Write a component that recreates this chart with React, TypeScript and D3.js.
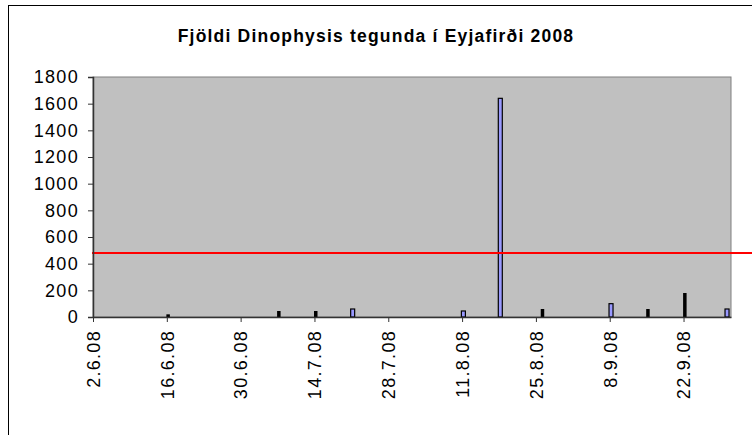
import React, { useEffect, useRef } from "react";
import * as d3 from "d3";

// Two series of counts
const blueDates = ["2008-07-21", "2008-08-11", "2008-08-18", "2008-09-08", "2008-09-30"];
const blueValues = [60, 45, 1640, 100, 60];
const blackDates = ["2008-06-16", "2008-07-07", "2008-07-14", "2008-08-26", "2008-09-15", "2008-09-22"];
const blackValues = [20, 45, 45, 60, 60, 180];
const yTicks = [0, 200, 400, 600, 800, 1000, 1200, 1400, 1600, 1800];
const tickDates = ["2008-06-02", "2008-06-16", "2008-06-30", "2008-07-14", "2008-07-28", "2008-08-11", "2008-08-25", "2008-09-08", "2008-09-22"];
const threshold = 480;
const title = "Fjöldi Dinophysis tegunda í Eyjafirði 2008";

const parse = d3.utcParse("%Y-%m-%d");
const fmt = (d: Date) => `${d.getUTCDate()}.${d.getUTCMonth() + 1}.08`;

const App = () => {
  const ref = useRef<SVGSVGElement>(null);

  useEffect(() => {
    const W = 752, H = 435;
    const margin = { top: 77, right: 21, bottom: 118, left: 93 };
    const width = W - margin.left - margin.right;
    const height = H - margin.top - margin.bottom;

    const svg = d3.select(ref.current);
    svg.selectAll("*").remove();
    svg.attr("width", W).attr("height", H);

    // chart frame (cropped on the right and bottom)
    svg.append("rect").attr("x", 8.5).attr("y", 5.5).attr("width", 800).attr("height", 500)
      .attr("fill", "#fff").attr("stroke", "#000");

    svg.append("text")
      .attr("x", 376).attr("y", 42)
      .attr("text-anchor", "middle")
      .style("font-family", "Liberation Sans, Arial, sans-serif")
      .style("font-weight", "bold")
      .style("font-size", "17.5px")
      .style("letter-spacing", "1.2px")
      .text(title);

    const g = svg.append("g").attr("transform", `translate(${margin.left},${margin.top})`);

    const x = d3.scaleUtc()
      .domain([parse("2008-06-02")!, parse("2008-10-01")!])
      .range([0, width]);
    const y = d3.scaleLinear().domain([0, 1800]).range([height, 0]);

    g.append("rect").attr("width", width).attr("height", height)
      .attr("fill", "#c0c0c0").attr("stroke", "#808080");

    const shift = 1.3;

    // black series
    g.selectAll(".black")
      .data(blackDates.map((d, i) => ({ d: parse(d)!, v: blackValues[i] })))
      .enter().append("rect")
      .attr("x", (p) => x(p.d) + shift - 1.75)
      .attr("y", (p) => y(p.v))
      .attr("width", 3.5)
      .attr("height", (p) => height - y(p.v))
      .attr("fill", "#000");

    // blue series
    g.selectAll(".blue")
      .data(blueDates.map((d, i) => ({ d: parse(d)!, v: blueValues[i] })))
      .enter().append("rect")
      .attr("x", (p) => x(p.d) + shift - 2)
      .attr("y", (p) => y(p.v))
      .attr("width", 4)
      .attr("height", (p) => height - y(p.v))
      .attr("fill", "#9999ff")
      .attr("stroke", "#000")
      .attr("stroke-width", 1.2);

    // threshold line
    g.append("line")
      .attr("x1", -1).attr("x2", W)
      .attr("y1", y(threshold)).attr("y2", y(threshold))
      .attr("stroke", "#ff0000").attr("stroke-width", 2);

    const font = "Liberation Sans, Arial, sans-serif";

    // y axis
    const yAxis = g.append("g")
      .call(d3.axisLeft(y).tickValues(yTicks).tickFormat(d3.format("d")).tickSize(5).tickPadding(9));
    yAxis.select(".domain").attr("stroke", "#333").attr("stroke-width", 1.5);
    yAxis.selectAll("line").attr("stroke", "#333");
    yAxis.selectAll("text")
      .style("font-family", font)
      .style("font-size", "18px")
      .style("letter-spacing", "1.3px")
      .attr("fill", "#000");

    // x axis
    const xAxis = g.append("g")
      .attr("transform", `translate(0,${height})`)
      .call(d3.axisBottom(x).tickValues(tickDates.map((d) => parse(d)!)).tickFormat((d) => fmt(d as Date)).tickSize(5).tickSizeOuter(0));
    xAxis.select(".domain").attr("stroke", "#333").attr("stroke-width", 1.5);
    xAxis.selectAll("line").attr("stroke", "#333");
    xAxis.selectAll("text")
      .style("font-family", font)
      .style("font-size", "18px")
      .style("letter-spacing", "1.3px")
      .attr("fill", "#000")
      .attr("transform", "rotate(-90)")
      .attr("text-anchor", "end")
      .attr("x", -13)
      .attr("y", 0)
      .attr("dy", "0.35em");
  }, []);

  return (
    <svg ref={ref} style={{ position: "absolute", left: 0, top: 0 }} />
  );
};

export default App;
